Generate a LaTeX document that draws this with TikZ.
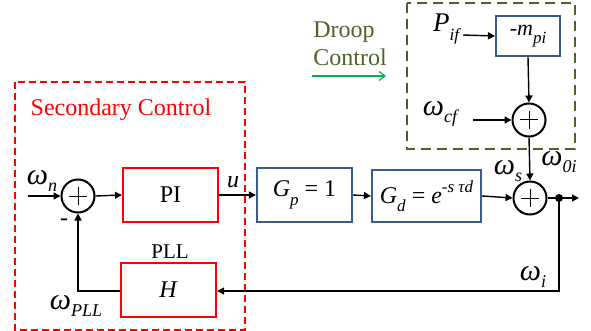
\documentclass[tikz,border=0pt]{standalone}
\usepackage{fontspec}
\setmainfont{Liberation Serif}
\usetikzlibrary{arrows.meta}
\definecolor{bboxc}{RGB}{56,93,138}
\definecolor{olivec}{RGB}{79,98,40}
\definecolor{greenc}{RGB}{0,176,80}
\newcommand{\sy}[2]{\textit{#1}\raisebox{-0.35em}{\fontsize{17}{17}\selectfont\textit{#2}}}
\newcommand{\om}[1]{{\fontsize{30}{30}\selectfont\textit{ω}}\raisebox{-0.3em}{\fontsize{18}{18}\selectfont\textit{#1}}}
\tikzset{
  blk/.style={draw=#1, line width=2.2pt, minimum width=95pt, minimum height=54pt, inner sep=0pt, font=\fontsize{24}{24}\selectfont},
  sumnode/.style={circle, draw, line width=2pt, minimum size=33pt, inner sep=0pt,
    path picture={\draw[line width=1pt] ([xshift=-9pt]path picture bounding box.center) -- ([xshift=9pt]path picture bounding box.center);
                  \draw[line width=1pt] ([yshift=-9pt]path picture bounding box.center) -- ([yshift=9pt]path picture bounding box.center);}},
  conn/.style={line width=1.4pt, -{Triangle[length=7pt,width=7pt]}},
  lab/.style={font=\fontsize{24}{24}\selectfont, inner sep=0pt},
}
\begin{document}
\begin{tikzpicture}[x=1pt,y=-1pt]
\useasboundingbox (0,0) rectangle (591,331);
% dashed frames
\draw[red, line width=2pt, dash pattern=on 7pt off 4pt] (15,82) rectangle (245,330);
\draw[olivec, line width=2.2pt, dash pattern=on 10pt off 6pt] (407,3) rectangle (575,149);
\node[lab, red] (sct) at (121,110) {Secondary Control};
\node[lab, olivec, align=left, font=\fontsize{24}{28}\selectfont] (dct) at (350,44) {Droop\\Control};
\coordinate (ga) at (312,76);
\coordinate (gb) at (386,76);
\draw[greenc, line width=1.2pt, -{Straight Barb[length=6pt,width=9pt]}] (ga) -- (gb);
% blocks
\node[blk=red] (pi) at (170.5,195) {PI};
\node[blk=red] (h) at (168.5,290) {\textit{H}};
\node[blk=bboxc] (gp) at (304.5,195) {\sy{G}{p} = 1};
\node[blk=bboxc, minimum width=109pt, minimum height=52pt] (gd) at (426.5,196) {\sy{G}{d} = \textit{e}\raisebox{0.45em}{\fontsize{17}{17}\selectfont -\textit{s τd}}};
\node[blk=bboxc, minimum width=64pt, minimum height=40pt, font=\fontsize{22}{22}\selectfont] (mpi) at (528,36) {-\sy{m}{pi}};
% sums
\node[sumnode] (s1) at (78,196) {};
\node[sumnode] (s2) at (530,198) {};
\node[sumnode] (s3) at (529,120) {};
% coordinates
\coordinate (win) at (28,196);
\coordinate (wcf) at (473,120);
\coordinate (pif) at (463,35);
\coordinate (jn) at (559,198);
\coordinate (out) at (579,198);
\coordinate (fb) at (559,291);
% connectors
\draw[conn] (win) -- (s1.west);
\draw[conn] (s1.east) -- (pi.west);
\draw[conn] (pi.east) -- (gp.west);
\draw[conn] (gp.east) -- (gd.west);
\draw[conn] (gd.east) -- (s2.west);
\draw[conn] (pif) -- (mpi.west);
\draw[conn] (mpi.south) -- (s3.north);
\draw[conn] (wcf) -- (s3.west);
\draw[conn] (s3.south) -- (s2.north);
\draw[conn] (s2.east) -- (out);
\fill (jn) circle (4pt);
\draw[conn] (jn) -- (fb) -- (h.east |- fb);
\draw[conn] (h.west |- fb) -| (s1.south);
% labels
\node[lab] (lwn) at (42,181) {\om{n}};
\node[lab] (lu) at (233,182) {\textit{u}};
\node[lab] (lminus) at (64,222) {-};
\node[lab, font=\fontsize{21}{21}\selectfont] (lpll) at (170,252) {PLL};
\node[lab] (lwpll) at (76,306) {\om{PLL}};
\node[lab] (lwi) at (533,277) {\om{i}};
\node[lab] (lws) at (508,171) {\om{s}};
\node[lab] (lw0i) at (559,162) {\om{0i}};
\node[lab] (lwcf) at (441,114) {\om{cf}};
\node[lab, font=\fontsize{27}{27}\selectfont] (lpif) at (447,29) {\sy{P}{if}};
\end{tikzpicture}
\end{document}
